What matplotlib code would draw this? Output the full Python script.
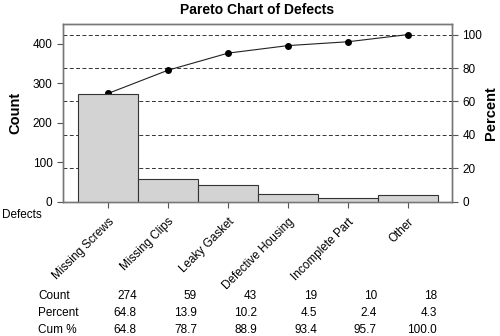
import matplotlib
matplotlib.use("Agg")
import matplotlib.pyplot as plt
import matplotlib.transforms as mtransforms

plt.rcParams['font.family'] = ['Liberation Sans', 'DejaVu Sans']

categories = ["Missing Screws", "Missing Clips", "Leaky Gasket",
              "Defective Housing", "Incomplete Part", "Other"]
counts = [274, 59, 43, 19, 10, 18]
percent = [64.8, 13.9, 10.2, 4.5, 2.4, 4.3]
cum_pct = [64.8, 78.7, 88.9, 93.4, 95.7, 100.0]
count_labels = ["274", "59", "43", "19", "10", "18"]
percent_labels = ["64.8", "13.9", "10.2", "4.5", "2.4", "4.3"]
cum_labels = ["64.8", "78.7", "88.9", "93.4", "95.7", "100.0"]

total = sum(counts)

fig = plt.figure(figsize=(5.0, 3.36), dpi=100)
ax = fig.add_axes([0.126, 0.399, 0.778, 0.530])
x = list(range(len(categories)))

ax.bar(x, counts, width=1.0, color="#d3d3d3", edgecolor="#333333", linewidth=0.8, zorder=2)
ax.set_xlim(-0.75, 5.73)
ymax = 450
ax.set_ylim(0, ymax)
ax.set_yticks([0, 100, 200, 300, 400])
ax.set_xticks(x)
ax.set_xticklabels(categories, rotation=45, ha='right', va='top',
                   rotation_mode='anchor', fontsize=8.5)
ax.tick_params(axis='both', labelsize=8.5, length=4, width=0.8, color="#555555", direction='out')
ax.tick_params(axis='x', pad=6)
for s in ax.spines.values():
    s.set_color("#777777")
    s.set_linewidth(1.0)

ax2 = ax.twinx()
ax2.set_ylim(0, ymax / total * 100)
ax2.set_yticks([0, 20, 40, 60, 80, 100])
ax2.tick_params(axis='y', labelsize=8.5, length=4, width=0.8, color="#555555")
for s in ax2.spines.values():
    s.set_color("#777777")
    s.set_linewidth(1.0)
for v in [20, 40, 60, 80, 100]:
    ax2.axhline(v, color="#333333", linestyle=(0, (4, 2.5)), linewidth=0.7, zorder=1)
ax2.plot(x, cum_pct, color="#222222", linewidth=0.8, marker='o', markersize=4,
         markerfacecolor='black', markeredgecolor='black', zorder=3)

ax.set_zorder(ax2.get_zorder() + 1)
ax.patch.set_visible(False)

fig.text(0.030, 0.664, "Count", fontsize=10.5, fontweight='bold', rotation=90,
         ha='center', va='center')
fig.text(0.983, 0.664, "Percent", fontsize=10.5, fontweight='bold', rotation=90,
         ha='center', va='center')

fig.suptitle("Pareto Chart of Defects", x=0.515, y=0.99, fontsize=10, fontweight='bold')

fig.text(0.004, 0.36, "Defects", fontsize=8.5, ha='left', va='center')

trans = mtransforms.blended_transform_factory(ax.transData, fig.transFigure)
rows = [("Count", count_labels, 0.118), ("Percent", percent_labels, 0.068), ("Cum %", cum_labels, 0.018)]
for name, labels, yy in rows:
    fig.text(0.076, yy, name, fontsize=8.5, ha='left', va='center')
    for i, lab in enumerate(labels):
        ax.text(i + 0.48, yy, lab, fontsize=8.5, ha='right', va='center', transform=trans)

fig.savefig("out.png", dpi=100)
